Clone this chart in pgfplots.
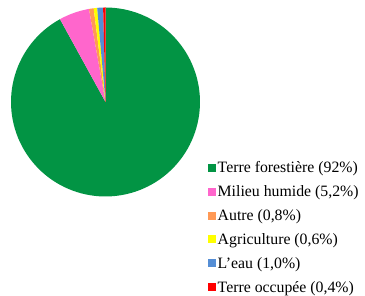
\documentclass[border=0pt]{standalone}
\usepackage{pgfplots}
\pgfplotsset{compat=1.18}
\usepackage{fontspec}
\setmainfont{Liberation Serif}
\definecolor{fgreen}{RGB}{2,148,68}
\definecolor{fpink}{RGB}{255,102,204}
\definecolor{forange}{RGB}{255,153,85}
\definecolor{fyellow}{RGB}{255,255,0}
\definecolor{fblue}{RGB}{85,142,213}
\definecolor{fred}{RGB}{255,0,0}
% pie centre and radius in picture pixels
\def\cx{105.5}\def\cy{194}\def\rr{94.5}
\begin{document}
\begin{tikzpicture}
\begin{axis}[
  scale only axis, width=365pt, height=296pt,
  xmin=0, xmax=365, ymin=0, ymax=296,
  hide axis, clip=false,
  legend image code/.code={\fill[#1] (0pt,-4pt) rectangle (8pt,4pt);},
  legend cell align=left,
  legend style={draw=none, fill=none, inner sep=0pt,
    font=\fontsize{15.8}{15.8}\selectfont,
    at={(axis cs:208,135)}, anchor=north west,
    row sep=11.5pt,
    nodes={inner xsep=1.5pt, inner ysep=0pt}},
]
% cumulative percentages: 92, 5.2, 0.8, 0.6, 1.0, 0.4
\addplot[fill=fgreen, draw=none, domain=0:92, samples=120]
  ({\cx+\rr*cos(90-3.6*x)},{\cy+\rr*sin(90-3.6*x)}) -- (axis cs:\cx,\cy) -- cycle;
\addlegendentry{Terre forestière (92\%)}
\addplot[fill=fpink, draw=none, domain=92:97.2, samples=12]
  ({\cx+\rr*cos(90-3.6*x)},{\cy+\rr*sin(90-3.6*x)}) -- (axis cs:\cx,\cy) -- cycle;
\addlegendentry{Milieu humide (5,2\%)}
\addplot[fill=forange, draw=none, domain=97.2:98, samples=4]
  ({\cx+\rr*cos(90-3.6*x)},{\cy+\rr*sin(90-3.6*x)}) -- (axis cs:\cx,\cy) -- cycle;
\addlegendentry{Autre (0,8\%)}
\addplot[fill=fyellow, draw=none, domain=98:98.6, samples=4]
  ({\cx+\rr*cos(90-3.6*x)},{\cy+\rr*sin(90-3.6*x)}) -- (axis cs:\cx,\cy) -- cycle;
\addlegendentry{Agriculture (0,6\%)}
\addplot[fill=fblue, draw=none, domain=98.6:99.6, samples=4]
  ({\cx+\rr*cos(90-3.6*x)},{\cy+\rr*sin(90-3.6*x)}) -- (axis cs:\cx,\cy) -- cycle;
\addlegendentry{L'eau (1,0\%)}
\addplot[fill=fred, draw=none, domain=99.6:100, samples=4]
  ({\cx+\rr*cos(90-3.6*x)},{\cy+\rr*sin(90-3.6*x)}) -- (axis cs:\cx,\cy) -- cycle;
\addlegendentry{Terre occupée (0,4\%)}
\end{axis}
\path (current axis.south west) rectangle (current axis.north east);
\end{tikzpicture}
\end{document}
